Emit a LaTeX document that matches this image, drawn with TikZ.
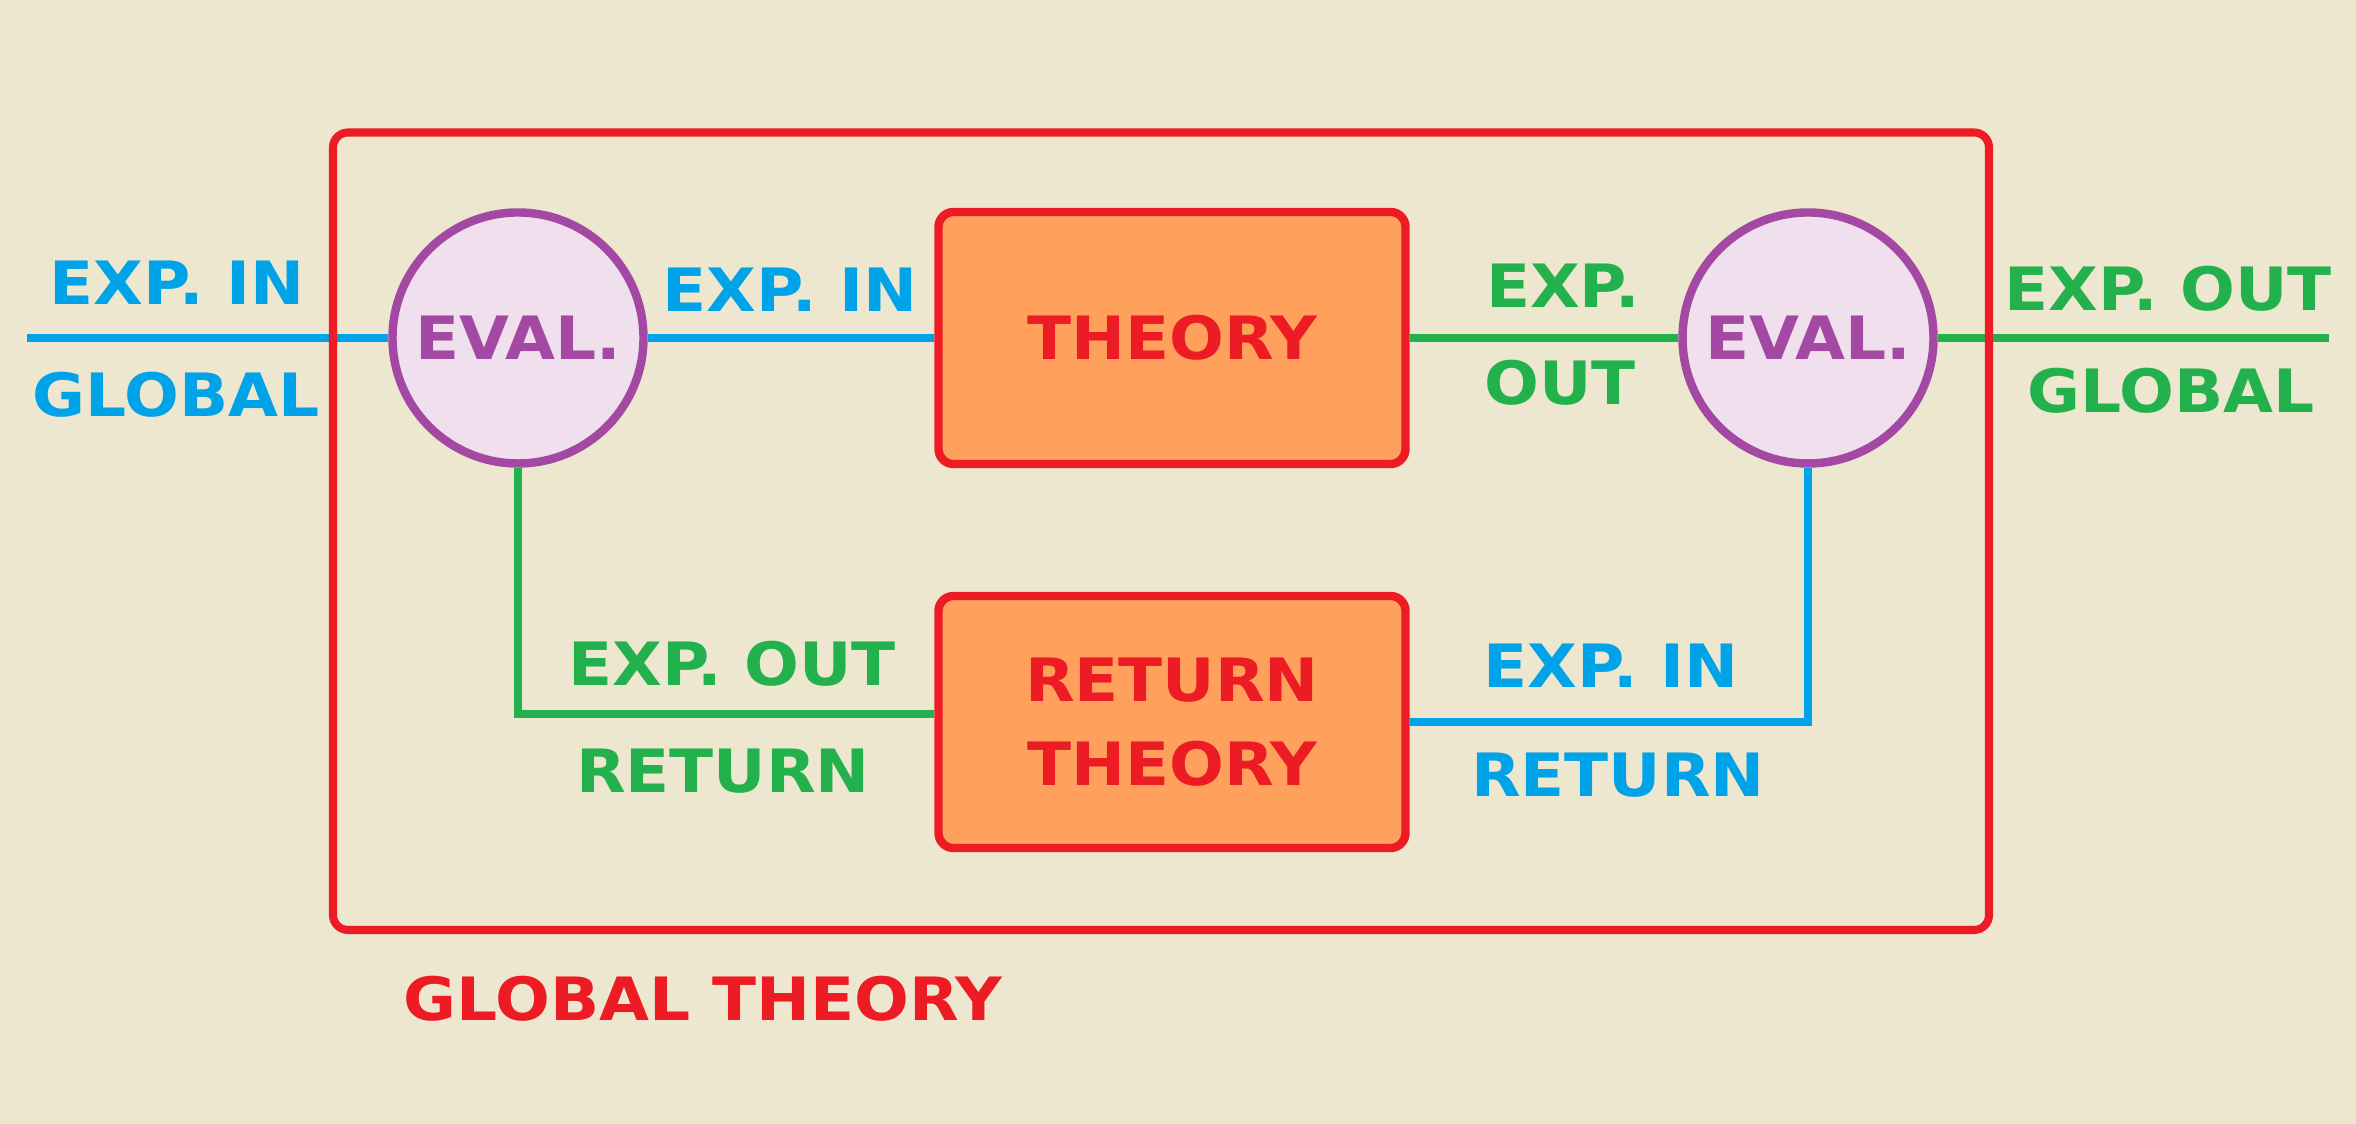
\documentclass[tikz,border=0pt]{standalone}
\usepackage{fontspec}
\setmainfont[FakeStretch=1.08]{DejaVu Sans}
\usepackage{tikz}
\usetikzlibrary{positioning}
\definecolor{bgcol}{RGB}{237,231,207}
\definecolor{theoryred}{RGB}{237,28,36}
\definecolor{theoryorange}{RGB}{255,160,92}
\definecolor{evalpurple}{RGB}{163,73,164}
\definecolor{evalpink}{RGB}{240,223,236}
\definecolor{expblue}{RGB}{0,162,232}
\definecolor{expgreen}{RGB}{34,177,76}

\begin{document}
\begin{tikzpicture}[every node/.style={font=\fontsize{17}{24}\selectfont\bfseries},
    evalnode/.style={circle,draw=evalpurple,fill=evalpink,line width=2.4pt,minimum size=2.51cm,inner sep=0pt,text=evalpurple},
    theorybox/.style={rectangle,rounded corners=0.15cm,draw=theoryred,fill=theoryorange,line width=2.4pt,minimum width=4.67cm,minimum height=2.52cm,text=theoryred,align=center},
    bluelabel/.style={text=expblue},
    greenlabel/.style={text=expgreen},
    blueline/.style={draw=expblue,line width=2.4pt},
    greenline/.style={draw=expgreen,line width=2.4pt}]
    % 背景
    \fill[bgcol] (0,0) rectangle (23.56,11.24);
    \useasboundingbox (0,0) rectangle (23.56,11.24);

    % 两个评估圈和两个理论框
    \node[evalnode] (evalL) at (5.18,7.86) {EVAL.};
    \node[evalnode] (evalR) at (18.08,7.86) {EVAL.};
    \node[theorybox] (theory) at (11.72,7.86) {THEORY};
    \node[theorybox] (retheory) at (11.72,4.02) {RETURN\\THEORY};

    % 连线
    \coordinate (inL) at (0.27,7.86);
    \coordinate (outR) at (23.29,7.86);
    \draw[blueline] (inL) -- (evalL);
    \draw[blueline] (evalL) -- (theory);
    \draw[greenline] (theory) -- (evalR);
    \draw[greenline] (evalR) -- (outR);
    \draw[greenline] (evalL.south) |- ([yshift=0.08cm]retheory.west);
    \draw[blueline] (evalR.south) |- (retheory.east);

    % 外框
    \draw[theoryred,line width=2.3pt,rounded corners=0.15cm] (3.33,1.94) rectangle (19.89,9.915);

    % 标注
    \node[bluelabel] (inG1) at (1.77,8.41) {EXP. IN};
    \node[bluelabel] (inG2) at (1.76,7.29) {GLOBAL};
    \node[bluelabel] (inT) at (7.90,8.34) {EXP. IN};
    \node[greenlabel] (outT1) at (15.63,8.38) {EXP.};
    \node[greenlabel] (outT2) at (15.60,7.41) {OUT};
    \node[greenlabel] (outG1) at (21.68,8.35) {EXP. OUT};
    \node[greenlabel] (outG2) at (21.71,7.33) {GLOBAL};
    \node[greenlabel] (outR1) at (7.32,4.60) {EXP. OUT};
    \node[greenlabel] (outR2) at (7.23,3.53) {RETURN};
    \node[bluelabel] (inR1) at (16.11,4.58) {EXP. IN};
    \node[bluelabel] (inR2) at (16.18,3.49) {RETURN};
    \node[text=theoryred] (global) at (7.03,1.25) {GLOBAL THEORY};
\end{tikzpicture}
\end{document}
